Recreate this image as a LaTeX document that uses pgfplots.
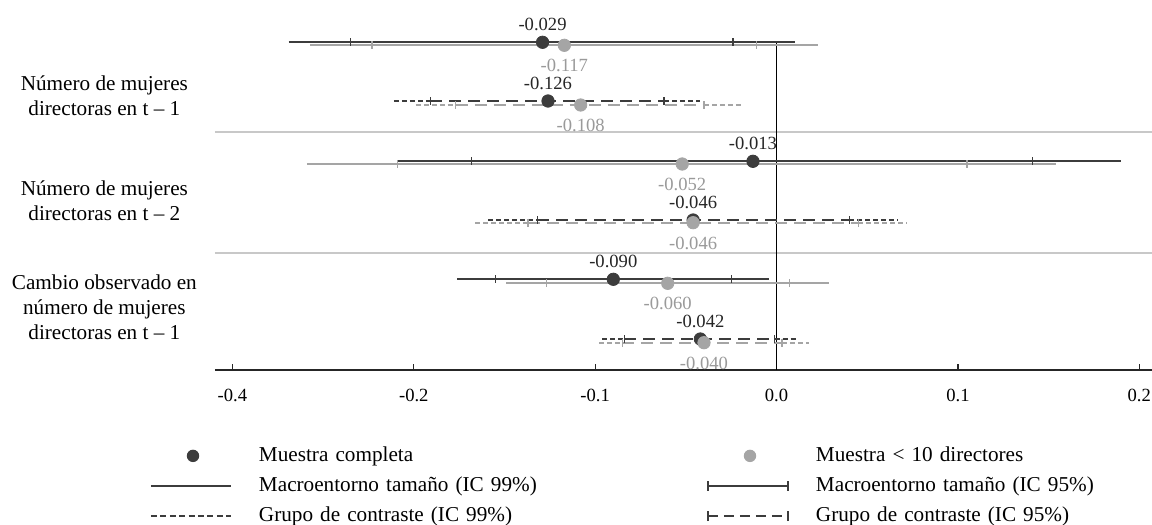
\documentclass[border=0pt]{standalone}
\usepackage{fontspec}
\setmainfont{Liberation Serif}
\usepackage{pgfplots}
\pgfplotsset{compat=1.18}

\definecolor{dk}{HTML}{3C3C3C}
\definecolor{dktext}{HTML}{262626}
\definecolor{lt}{HTML}{A5A5A5}
\definecolor{lttext}{HTML}{9A9A9A}
\definecolor{gridc}{HTML}{C8C8C8}

\newcommand\numfont{\fontsize{9.3}{11}\selectfont}
\newcommand\labfont{\fontsize{10.6}{12.5}\selectfont}

\tikzset{
  blk/.style={dk, line width=1pt},
  gry/.style={lt, line width=1pt},
  d99/.style={dash pattern=on 2.5pt off 1.5pt},
  d95/.style={dash pattern=on 6pt off 3.5pt},
}

% style, y, lo99, hi99, lo95, hi95
\newcommand{\solidci}[6]{%
  \addplot[#1, forget plot] coordinates {(#3,#2) (#4,#2)};
  \addplot[#1, forget plot, mark=|, mark size=2pt, mark options={solid, line width=0.6pt}] coordinates {(#5,#2) (#6,#2)};
}
\newcommand{\dashci}[6]{%
  \addplot[#1, d99, forget plot] coordinates {(#3,#2) (#5,#2)};
  \addplot[#1, d99, forget plot] coordinates {(#6,#2) (#4,#2)};
  \addplot[#1, d95, forget plot, mark=|, mark size=2pt, mark options={solid, line width=0.6pt}] coordinates {(#5,#2) (#6,#2)};
}

\begin{document}
\begin{tikzpicture}
\begin{axis}[
  at={(0,0)}, anchor=south west,
  scale only axis, width=468.5pt, height=180pt,
  xmin=-0.3096, xmax=0.207, ymin=-370, ymax=-10,
  axis x line=bottom, axis y line=none,
  x axis line style={-, line width=0.7pt, black!85},
  xtick={-0.3,-0.2,-0.1,0,0.1,0.2},
  xticklabels={-0.4,-0.2,-0.1,0.0,0.1,0.2},
  tick align=inside, major tick length=3pt,
  xtick style={line width=0.6pt, black!85},
  xticklabel style={font=\numfont, yshift=-6pt},
  /pgf/number format/assume math mode=true,
  clip=false,
  legend columns=2,
  legend style={
    draw=none, fill=none, inner sep=0pt, outer sep=0pt,
    at={(-0.06937,-0.2139)}, anchor=north west,
    font=\labfont, row sep=6.2pt,
    nodes={inner sep=0pt},
    /tikz/every odd column/.append style={column sep=13.5pt},
    /tikz/every even column/.append style={text width=224pt},
  },
  legend cell align=left,
]
% separators
\draw[gridc, line width=0.6pt] (axis cs:-0.3096,-132) -- (axis cs:0.207,-132);
\draw[gridc, line width=0.6pt] (axis cs:-0.3096,-253) -- (axis cs:0.207,-253);
% zero line
\addplot[black, line width=0.65pt, forget plot] coordinates {(0,-43) (0,-370)};

% Group 1: Numero de mujeres directoras en t-1
\solidci{blk}{-42.3}{-0.269}{0.010}{-0.235}{-0.024}
\solidci{gry}{-45.3}{-0.257}{0.023}{-0.223}{-0.011}
\dashci{blk}{-101}{-0.211}{-0.042}{-0.191}{-0.062}
\dashci{gry}{-105}{-0.199}{-0.018}{-0.177}{-0.040}
% Group 2: t-2
\solidci{blk}{-161.3}{-0.209}{0.190}{-0.168}{0.141}
\solidci{gry}{-164}{-0.259}{0.154}{-0.209}{0.105}
\dashci{blk}{-220}{-0.159}{0.067}{-0.132}{0.040}
\dashci{gry}{-222.7}{-0.166}{0.072}{-0.137}{0.045}
% Group 3: cambio observado
\solidci{blk}{-279.3}{-0.176}{-0.004}{-0.155}{-0.025}
\solidci{gry}{-283.3}{-0.149}{0.029}{-0.127}{0.007}
\dashci{blk}{-339}{-0.096}{0.012}{-0.084}{-0.001}
\dashci{gry}{-342.7}{-0.098}{0.018}{-0.085}{0.003}

% point estimates, full sample
\addplot[only marks, mark=*, mark size=3.1pt, mark options={draw=dk, fill=dk}, forget plot,
  nodes near coords, point meta=explicit symbolic,
  nodes near coords align={anchor=south},
  every node near coord/.append style={anchor=south, inner sep=0pt, yshift=5.5pt, font=\numfont, text=dktext}]
  table[meta=lab] {
x y lab
-0.129 -42.3 -0.029
-0.126 -101 -0.126
-0.013 -161.3 -0.013
-0.046 -220 -0.046
-0.090 -279.3 -0.090
-0.042 -339 -0.042
};
% point estimates, subsample
\addplot[only marks, mark=*, mark size=3.1pt, mark options={draw=lt, fill=lt}, forget plot,
  nodes near coords, point meta=explicit symbolic,
  nodes near coords align={anchor=north},
  every node near coord/.append style={anchor=north, inner sep=0pt, yshift=-6.8pt, font=\numfont, text=lttext}]
  table[meta=lab] {
x y lab
-0.117 -45.3 -0.117
-0.108 -105 -0.108
-0.052 -164 -0.052
-0.046 -222.7 -0.046
-0.060 -283.3 -0.060
-0.040 -342.7 -0.040
};

% legend
\addlegendimage{legend image code/.code={\path[draw=none, fill=none] (0pt,0pt) -- (40pt,0pt); \fill[dk, draw=none] (21pt,0pt) circle (3.1pt);}}
\addlegendentry{Muestra completa}
\addlegendimage{legend image code/.code={\path[draw=none, fill=none] (0pt,0pt) -- (40pt,0pt); \fill[lt, draw=none] (21pt,0pt) circle (3.1pt);}}
\addlegendentry{Muestra < 10 directores}
\addlegendimage{legend image code/.code={\draw[dk, line width=1pt] (0pt,0pt) -- (40pt,0pt);}}
\addlegendentry{Macroentorno tamaño (IC 99\%)}
\addlegendimage{legend image code/.code={\draw[dk, line width=1pt] (0pt,0pt) -- (40pt,0pt); \draw[dk, line width=0.7pt] (0pt,-2.5pt) -- (0pt,2.5pt) (40pt,-2.5pt) -- (40pt,2.5pt);}}
\addlegendentry{Macroentorno tamaño (IC 95\%)}
\addlegendimage{legend image code/.code={\draw[dk, line width=1pt, dash pattern=on 3pt off 1.7pt] (0pt,0pt) -- (40pt,0pt);}}
\addlegendentry{Grupo de contraste (IC 99\%)}
\addlegendimage{legend image code/.code={\draw[dk, line width=1pt, dash pattern=on 5pt off 3pt] (0pt,0pt) -- (40pt,0pt); \draw[dk, line width=0.7pt] (0pt,-2.5pt) -- (0pt,2.5pt) (40pt,-2.5pt) -- (40pt,2.5pt);}}
\addlegendentry{Grupo de contraste (IC 95\%)}

% category labels
\node[align=center, font=\labfont] at (axis cs:-0.3706,-96) {Número de mujeres\\directoras en t – 1};
\node[align=center, font=\labfont] at (axis cs:-0.3706,-201) {Número de mujeres\\directoras en t – 2};
\node[align=center, font=\labfont] at (axis cs:-0.3706,-307) {Cambio observado en\\número de mujeres\\directoras en t – 1};
\end{axis}
\pgfresetboundingbox
\path[use as bounding box] (-107.5pt,-77.5pt) rectangle (468.5pt,185pt);
\end{tikzpicture}
\end{document}
